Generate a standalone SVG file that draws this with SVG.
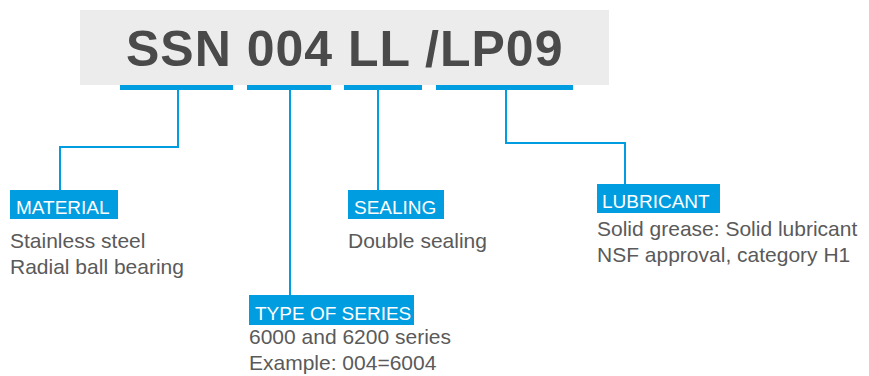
<svg xmlns="http://www.w3.org/2000/svg" width="869" height="376" viewBox="0 0 869 376">
<style>
.title{font-family:"Liberation Sans",Arial,sans-serif;font-weight:bold;font-size:50px;fill:#4a4a4a;letter-spacing:1px}
.bar{fill:#009ee0}
.lbl{fill:#009ee0}
.lt{font-family:"Liberation Sans",Arial,sans-serif;font-size:19px;fill:#ffffff}
.bd{font-family:"Liberation Sans",Arial,sans-serif;font-size:21px;fill:#5a5a5a}
.con{fill:none;stroke:#009ee0;stroke-width:2}
</style>
<rect x="80" y="10" width="529" height="75" fill="#ececec"/>
<text class="title" x="126" y="66">SSN 004 LL /LP09</text>
<g id="bars">
<rect class="bar" x="120" y="85" width="113" height="5"/>
<rect class="bar" x="247" y="85" width="84" height="5"/>
<rect class="bar" x="344" y="85" width="78" height="5"/>
<rect class="bar" x="436" y="85" width="137" height="5"/>
</g>
<g id="connectors">
<path class="con" d="M178 90 V147 H60 V190"/>
<path class="con" d="M290 90 V295"/>
<path class="con" d="M378 90 V190"/>
<path class="con" d="M506 90 V143 H625 V184"/>
</g>
<g id="material">
<rect class="lbl" x="10" y="190" width="108" height="29"/>
<text class="lt" x="16" y="214">MATERIAL</text>
<text class="bd" x="10" y="248">Stainless steel</text>
<text class="bd" x="10" y="274">Radial ball bearing</text>
</g>
<g id="sealing">
<rect class="lbl" x="348" y="190" width="96" height="29"/>
<text class="lt" x="354" y="214">SEALING</text>
<text class="bd" x="348" y="248">Double sealing</text>
</g>
<g id="lubricant">
<rect class="lbl" x="597" y="184" width="123" height="29"/>
<text class="lt" x="602" y="208">LUBRICANT</text>
<text class="bd" x="597" y="236">Solid grease: Solid lubricant</text>
<text class="bd" x="597" y="262">NSF approval, category H1</text>
</g>
<g id="type">
<rect class="lbl" x="249" y="295" width="165" height="30"/>
<text class="lt" x="255" y="320">TYPE OF SERIES</text>
<text class="bd" x="249" y="344">6000 and 6200 series</text>
<text class="bd" x="249" y="370">Example: 004=6004</text>
</g>
</svg>
